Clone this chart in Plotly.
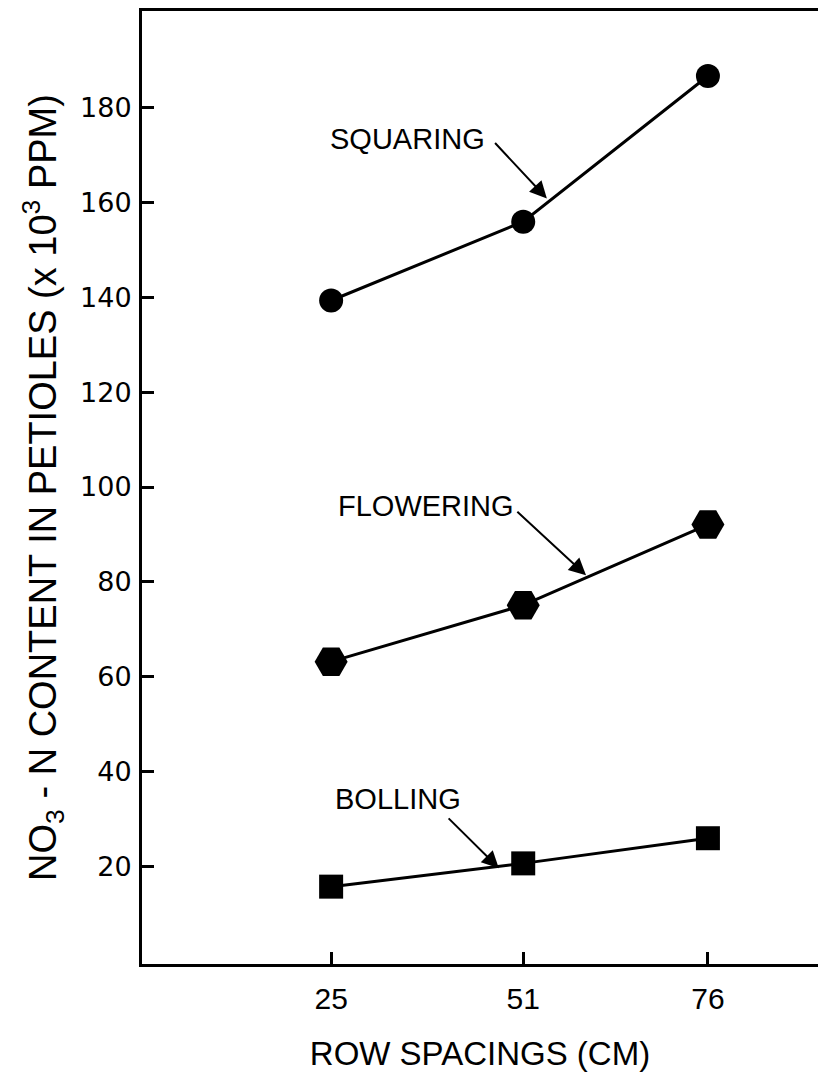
import plotly.graph_objects as go

# Row spacing (cm) and petiole NO3-N content (x10^3 ppm) at three growth stages
row_spacing = [25, 51, 76]
squaring = [139.3, 155.9, 186.6]
flowering = [63.2, 75.1, 92.1]
bolling = [15.8, 20.7, 26.0]

x_ticks = [25, 51, 76]
y_ticks = [20, 40, 60, 80, 100, 120, 140, 160, 180]

FONT = "Liberation Sans, Arial, sans-serif"
ROUND_FONT = "DejaVu Sans, Verdana, sans-serif"
INK = "black"

fig = go.Figure()

series = [
    ("SQUARING", squaring, "circle", 24),
    ("FLOWERING", flowering, "hexagon2", 33),
    ("BOLLING", bolling, "square", 24),
]
for name, vals, symbol, size in series:
    fig.add_trace(go.Scatter(
        x=row_spacing, y=vals, name=name, mode="lines+markers",
        line=dict(color=INK, width=3),
        marker=dict(symbol=symbol, size=size, color=INK, line=dict(width=0)),
        showlegend=False,
    ))

# Stage labels with arrows pointing to their curves
labels = [
    # text, text_x, text_y, tail_x, tail_y, head_x, head_y
    ("SQUARING", 35.3, 173.4, 47.0, 172.8, 54.2, 160.8),
    ("FLOWERING", 37.8, 96.0, 50.0, 95.1, 59.5, 81.4),
    ("BOLLING", 34.0, 34.2, 40.7, 30.5, 47.7, 19.7),
]
annotations = []
for text, tx, ty, ax_, ay_, hx, hy in labels:
    annotations.append(dict(
        x=tx, y=ty, xref="x", yref="y", text=text, showarrow=False,
        font=dict(family=FONT, size=29, color=INK),
    ))
    annotations.append(dict(
        x=hx, y=hy, xref="x", yref="y", ax=ax_, ay=ay_, axref="x", ayref="y",
        text="", showarrow=True, arrowhead=2, arrowsize=1.7, arrowwidth=2,
        arrowcolor=INK, standoff=0, startstandoff=0,
    ))

fig.update_layout(
    width=818, height=1072,
    margin=dict(l=142, r=0, t=11, b=108),
    paper_bgcolor="white", plot_bgcolor="white",
    font=dict(family=FONT, color=INK),
    annotations=annotations,
    xaxis=dict(
        range=[-0.6, 90.9], tickmode="array", tickvals=x_ticks,
        ticktext=[str(v) for v in x_ticks],
        ticks="inside", ticklen=12, tickwidth=2.5, tickcolor=INK,
        showline=True, linewidth=3, linecolor=INK, mirror=True,
        showgrid=False, zeroline=False,
        tickfont=dict(family=FONT, size=30, color=INK),
        ticklabelstandoff=6,
        title=dict(text="ROW SPACINGS (CM)", standoff=28,
                   font=dict(family=FONT, size=33, color=INK)),
    ),
    yaxis=dict(
        range=[-0.5, 200.3], tickmode="array", tickvals=y_ticks,
        ticktext=[str(v) for v in y_ticks],
        ticks="inside", ticklen=12, tickwidth=2.5, tickcolor=INK,
        showline=True, linewidth=3, linecolor=INK, mirror=False,
        showgrid=False, zeroline=False,
        tickfont=dict(family=ROUND_FONT, size=27, color=INK),
        ticklabelstandoff=2,
        title=dict(text="NO<sub>3</sub> - N CONTENT IN PETIOLES (x 10<sup>3</sup> PPM)",
                   standoff=12, font=dict(family=FONT, size=38, color=INK)),
    ),
)

fig.write_html("out.html")
